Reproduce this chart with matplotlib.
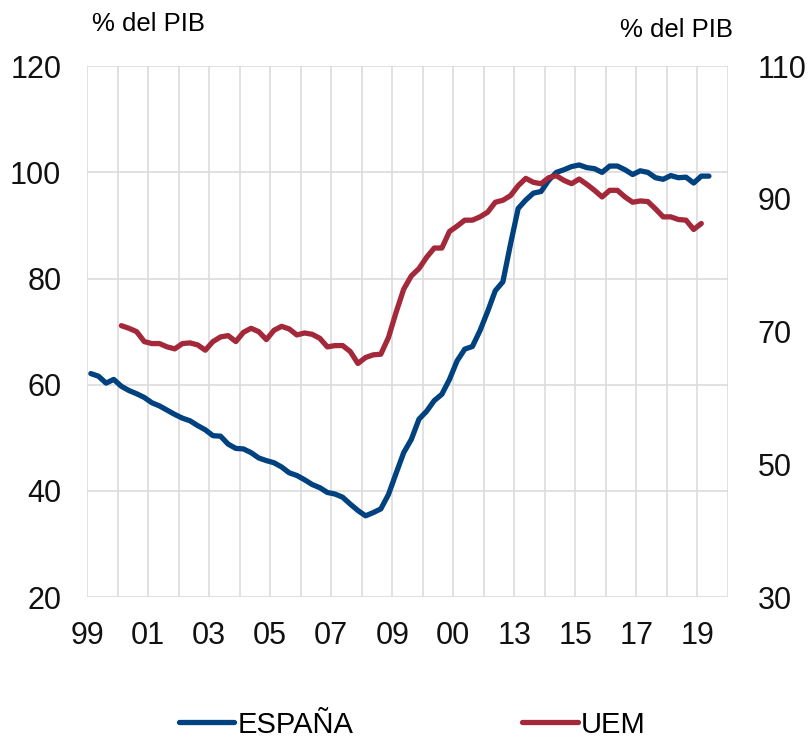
import numpy as np
import matplotlib
matplotlib.use('Agg')
import matplotlib.pyplot as plt

plt.rcParams['font.family'] = ['Liberation Sans', 'DejaVu Sans']

# Datos trimestrales (1999T1 - 2019T2), % del PIB
espana = [62.1, 61.6, 60.3, 61.0, 59.7, 58.9, 58.3, 57.6, 56.6, 56.0,
          55.2, 54.4, 53.7, 53.2, 52.3, 51.5, 50.4, 50.3, 48.8, 48.0,
          47.9, 47.2, 46.2, 45.7, 45.3, 44.5, 43.4, 42.9, 42.1, 41.2,
          40.6, 39.7, 39.4, 38.8, 37.5, 36.3, 35.3, 35.9, 36.6, 39.3,
          43.3, 47.2, 49.7, 53.5, 55.0, 57.0, 58.2, 61.0, 64.5, 66.7,
          67.2, 70.2, 73.8, 77.7, 79.4, 86.5, 93.2, 94.8, 96.1, 96.4,
          98.5, 100.0, 100.5, 101.1, 101.4, 100.9, 100.7, 100.0, 101.2, 101.2,
          100.5, 99.6, 100.3, 100.0, 99.0, 98.7, 99.4, 99.0, 99.1, 98.0,
          99.3, 99.3]

# UEM (eje derecho), 2000T1 - 2019T1
uem = [70.9, 70.5, 70.0, 68.5, 68.2, 68.2, 67.7, 67.4, 68.2, 68.3,
       68.0, 67.2, 68.5, 69.2, 69.4, 68.5, 69.9, 70.5, 70.0, 68.8,
       70.2, 70.8, 70.4, 69.5, 69.8, 69.6, 69.0, 67.7, 67.9, 67.9,
       67.0, 65.2, 66.1, 66.5, 66.6, 69.1, 72.9, 76.4, 78.4, 79.5,
       81.2, 82.6, 82.6, 85.1, 85.9, 86.8, 86.8, 87.3, 88.0, 89.5,
       89.8, 90.5, 92.0, 93.1, 92.5, 92.3, 93.2, 93.5, 92.8, 92.3,
       93.0, 92.2, 91.3, 90.3, 91.3, 91.3, 90.3, 89.5, 89.7, 89.6,
       88.5, 87.3, 87.3, 86.9, 86.8, 85.4, 86.3]

tick_years = [1999, 2001, 2003, 2005, 2007, 2009, 2011, 2013, 2015, 2017, 2019]
tick_labels = ['99', '01', '03', '05', '07', '09', '00', '13', '15', '17', '19']

azul = '#00427f'
rojo = '#a3283a'

# posicion temporal: centro de cada trimestre
t_esp = 1999 + (np.arange(len(espana)) + 0.5) / 4
t_uem = 2000 + (np.arange(len(uem)) + 0.5) / 4

fig = plt.figure(figsize=(8.08, 7.41), dpi=100)
ax = fig.add_axes([0.1077, 0.1943, 0.7933, 0.7163])
ax2 = ax.twinx()

ax.plot(t_esp, espana, color=azul, linewidth=3.8, label='ESPAÑA',
        solid_capstyle='round', zorder=3)
ax2.plot(t_uem, uem, color=rojo, linewidth=3.8, label='UEM',
         solid_capstyle='round', zorder=3)

ax.set_xlim(1999, 2020)
ax.set_ylim(20, 120)
ax2.set_ylim(30, 110)
ax.set_yticks([20, 40, 60, 80, 100, 120])
ax2.set_yticks([30, 50, 70, 90, 110])
ax.set_xticks(tick_years)
ax.set_xticklabels(tick_labels)
ax.set_xticks(np.arange(2000, 2021, 2), minor=True)

ax.grid(True, which='both', axis='x', color='#dcdcdc', linewidth=1.2)
ax.grid(True, which='major', axis='y', color='#dcdcdc', linewidth=1.2)
ax.set_axisbelow(True)

for a in (ax, ax2):
    for s in a.spines.values():
        s.set_visible(False)
    a.tick_params(which='both', length=0, labelsize=22, colors='#111111')
ax.tick_params(axis='y', pad=18.5)
ax2.tick_params(axis='y', pad=21.5)
ax.tick_params(axis='x', pad=17)

fig.text(0.114, 0.967, '% del PIB', fontsize=18.5, va='center', ha='left')
fig.text(0.907, 0.96, '% del PIB', fontsize=18.5, va='center', ha='right')

h1, l1 = ax.get_legend_handles_labels()
h2, l2 = ax2.get_legend_handles_labels()
fig.legend(h1 + h2, l1 + l2, loc='center', bbox_to_anchor=(0.51, 0.022),
           ncol=2, frameon=False, fontsize=21, handlelength=1.9,
           handletextpad=0.1, columnspacing=5.8, borderpad=0.1)

fig.savefig('out.png', dpi=100)
